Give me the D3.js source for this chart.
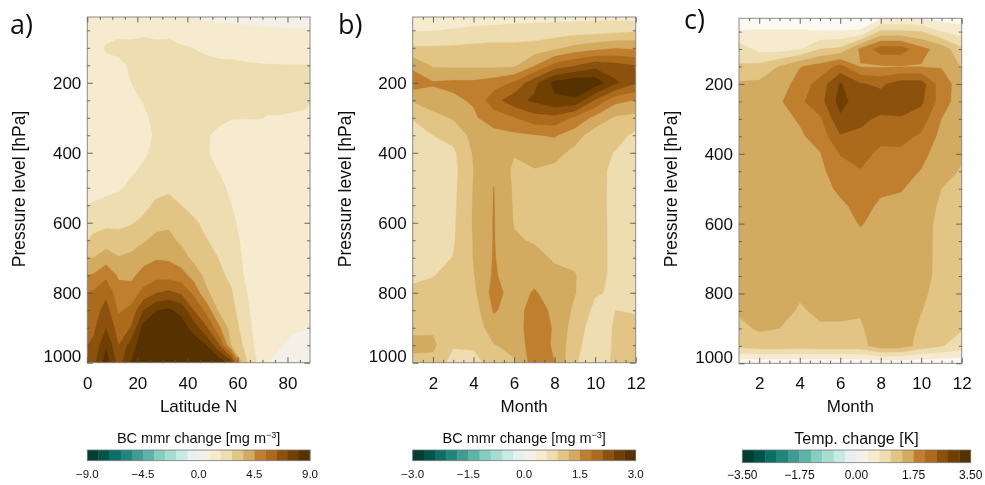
<!DOCTYPE html>
<html>
<head>
<meta charset="utf-8">
<script src="https://cdn.jsdelivr.net/npm/d3@7"></script>
<style>
  html, body { margin: 0; padding: 0; background: #fff; }
  svg { display: block; }
  text { font-family: "Liberation Sans", Arial, sans-serif; fill: #111; }
</style>
</head>
<body>
<script>
// Global consts
var w = 985;
var h = 485;

// pressure rows shared by the three fields [hPa]
const pressureLevels = [0, 50, 100, 150, 200, 250, 300, 350, 400, 450, 500, 550, 600, 650, 700, 750, 800, 850, 900, 950, 1000];
const pressureTicks = [200, 400, 600, 800, 1000];
const pressureMinorTicks = [50, 100, 150, 250, 300, 350, 450, 500, 550, 650, 700, 750, 850, 900, 950];

const latitudes = [2.5, 7.5, 12.5, 17.5, 22.5, 27.5, 32.5, 37.5, 42.5, 47.5, 52.5, 57.5, 62.5, 67.5, 72.5, 77.5, 82.5, 87.5];
const latTicks = [0, 20, 40, 60, 80];
const latMinorTicks = [5, 10, 15, 25, 30, 35, 45, 50, 55, 65, 70, 75, 85];
const months = [1, 2, 3, 4, 5, 6, 7, 8, 9, 10, 11, 12];
const monthTicks = [2, 4, 6, 8, 10, 12];
const monthMinorTicks = [1.5, 2.5, 3, 3.5, 4.5, 5, 5.5, 6.5, 7, 7.5, 8.5, 9, 9.5, 10.5, 11, 11.5];

// colour classes of the bars, teal end to brown end
const classColors = ['#013c34', '#02524a', '#096e66', '#23857d', '#3f9c93', '#5cb3a8', '#84cdc1', '#a6dcd2', '#c7eae5', '#e6f1ef',
    '#f5f0e7', '#f6ebcf', '#eeddb0', '#e2c585', '#d2aa60', '#c07f2e', '#ab6b1d', '#8c510a', '#6f4006', '#543005'];

// Fields are read off the picture, one column per latitude or month, top to bottom,
// in units of the contour step of that panel (1 = one colour class above zero)
const latField = [
    [1.2, 1.3, 1.5, 1.6, 1.6, 1.6, 1.6, 1.6, 1.6, 1.7, 1.8, 2.05, 2.6, 3.25, 4, 5.1, 6.15, 6.5, 6.8, 7.2, 7.6],
    [1.2, 1.6, 2.1, 1.75, 1.6, 1.6, 1.6, 1.6, 1.6, 1.7, 1.85, 2.15, 2.75, 3.5, 4.5, 5.75, 6.75, 7.4, 7.95, 8.9, 9.5],
    [1.2, 1.7, 2.3, 1.75, 1.65, 1.65, 1.65, 1.65, 1.65, 1.75, 1.9, 2.3, 2.75, 3.4, 4.05, 4.85, 5.4, 5.85, 6.5, 7, 7.6],
    [1.2, 1.7, 2.25, 2.15, 2, 1.8, 1.7, 1.7, 1.75, 1.9, 2.15, 2.55, 2.9, 3.6, 4.2, 4.75, 5.45, 6.25, 7.05, 8.45, 9],
    [1.2, 1.8, 2.3, 2.25, 2.2, 2.05, 1.85, 1.75, 1.9, 2.1, 2.35, 2.7, 3.25, 3.9, 4.6, 5.4, 6.3, 8, 9.4, 9.7, 9.9],
    [1.2, 1.7, 2.25, 2.3, 2.35, 2.3, 2.2, 2.1, 2.15, 2.3, 2.65, 3.2, 3.7, 4.25, 4.9, 5.65, 6.95, 8.95, 9.5, 9.7, 9.9],
    [1.2, 1.6, 2.4, 2.5, 2.5, 2.45, 2.4, 2.4, 2.45, 2.55, 2.8, 3.35, 3.8, 4.3, 4.85, 5.6, 7.2, 9.15, 9.5, 9.7, 9.9],
    [0.9, 1.55, 2.1, 2.4, 2.5, 2.45, 2.4, 2.4, 2.4, 2.5, 2.7, 3, 3.4, 3.8, 4.45, 5.4, 6.85, 8.7, 9.5, 9.7, 9.8],
    [0.8, 1.45, 1.98, 2.3, 2.4, 2.4, 2.35, 2.25, 2.25, 2.3, 2.4, 2.7, 3.15, 3.4, 3.75, 4.6, 5.75, 7, 8.6, 9.6, 9.7],
    [0.7, 1.35, 1.85, 2.2, 2.3, 2.3, 2.2, 2.05, 2.05, 2.15, 2.3, 2.5, 2.75, 3.05, 3.35, 3.7, 4.2, 5.7, 7.15, 9, 9.6],
    [0.6, 1.3, 1.75, 2.15, 2.25, 2.2, 2.1, 1.9, 1.85, 1.98, 2.2, 2.4, 2.55, 2.7, 2.98, 3.2, 3.45, 3.85, 5.25, 7.15, 9.8],
    [0.55, 1.25, 1.7, 2.15, 2.2, 2.15, 2.03, 1.75, 1.65, 1.7, 1.85, 2.02, 2.2, 2.4, 2.55, 2.8, 3.1, 3.3, 3.5, 3.95, 8.5],
    [0.5, 1.2, 1.65, 2.1, 2.2, 2.15, 2.02, 1.7, 1.55, 1.5, 1.55, 1.6, 1.7, 1.8, 1.9, 1.98, 2.2, 2.45, 2.7, 2.9, 3.4],
    [0.45, 1.15, 1.6, 2.05, 2.2, 2.15, 2.03, 1.65, 1.5, 1.45, 1.45, 1.45, 1.45, 1.45, 1.45, 1.5, 1.5, 1.5, 1.6, 1.8, 2.03],
    [0.4, 1.12, 1.55, 2.03, 2.15, 2.1, 1.98, 1.6, 1.45, 1.4, 1.4, 1.4, 1.4, 1.4, 1.4, 1.4, 1.4, 1.35, 1.25, 1.15, 1],
    [0.35, 1.1, 1.5, 2.02, 2.15, 2.1, 1.98, 1.55, 1.4, 1.4, 1.4, 1.4, 1.4, 1.4, 1.4, 1.4, 1.4, 1.3, 1.15, 1.01, 0.85],
    [0.3, 1.08, 1.45, 2.03, 2.15, 2.1, 1.95, 1.5, 1.4, 1.4, 1.4, 1.4, 1.4, 1.4, 1.4, 1.4, 1.35, 1.25, 1.08, 0.85, 0.7],
    [0.3, 1.07, 1.45, 2.02, 2.15, 2.1, 1.9, 1.5, 1.4, 1.4, 1.4, 1.4, 1.4, 1.4, 1.4, 1.4, 1.35, 1.2, 1.02, 0.8, 0.6]
];
const bcMonthField = [
    [1.5, 1.9, 3.1, 4.75, 5.6, 4.1, 3.05, 2.7, 2.5, 2.4, 2.4, 2.4, 2.45, 2.5, 2.6, 2.85, 3.15, 3.4, 3.8, 4.25, 3.7],
    [1.5, 1.97, 3.1, 3.85, 5.1, 4.6, 3.65, 3, 2.8, 2.6, 2.55, 2.55, 2.6, 2.7, 2.8, 2.97, 3.2, 3.5, 3.85, 4.2, 3.7],
    [1.5, 2.05, 3.15, 3.8, 5.2, 4.85, 4.1, 3.35, 2.8, 2.7, 2.75, 2.8, 2.85, 2.9, 3.02, 3.2, 3.3, 3.3, 3.2, 3.1, 2.6],
    [1.5, 2.15, 3.25, 3.8, 5.2, 5.1, 4.85, 4.3, 4.1, 4, 4.05, 4.08, 4.1, 4.05, 4.03, 3.95, 3.75, 3.5, 3.3, 3.1, 2.75],
    [1.5, 2.2, 3.35, 3.75, 5.5, 6.6, 5.5, 4.65, 4.4, 4.65, 5.02, 5.04, 5.05, 5.06, 5.08, 5.15, 5.4, 5.1, 4.6, 3.95, 3.3],
    [1.5, 2.3, 3.3, 3.8, 6.1, 7.6, 5.95, 4.8, 4.05, 3.85, 3.85, 3.9, 3.95, 4.1, 4.25, 4.4, 4.55, 4.6, 4.5, 4.25, 3.9],
    [1.5, 2.35, 3.4, 4.9, 7.7, 8.2, 6.6, 4.95, 4.4, 3.95, 3.8, 3.75, 3.8, 3.92, 4.25, 4.65, 5.1, 5.4, 5.55, 5.6, 5.5],
    [1.5, 2.4, 3.75, 6.3, 9.3, 8.8, 6.7, 5.1, 4.35, 3.75, 3.6, 3.6, 3.65, 3.75, 3.9, 4.2, 4.55, 4.8, 4.9, 4.85, 5],
    [1.5, 2.5, 4.3, 6.9, 9.8, 8.85, 5.8, 4.45, 3.7, 3.5, 3.45, 3.45, 3.5, 3.6, 3.8, 4.05, 4.05, 3.8, 3.5, 3.3, 3.1],
    [1.5, 2.55, 4.6, 7.6, 9.6, 6.9, 4.7, 3.45, 3.35, 3.35, 3.4, 3.45, 3.5, 3.5, 3.45, 3.35, 3.1, 2.75, 2.5, 2.4, 2.4],
    [1.5, 2.65, 4.9, 7.3, 8.2, 5.3, 3.85, 3.4, 2.95, 2.75, 2.7, 2.65, 2.65, 2.65, 2.7, 2.75, 2.85, 3, 3.1, 3.15, 3.2],
    [1.2, 2.85, 4.8, 6.95, 7.1, 4.95, 3.7, 2.75, 2.55, 2.5, 2.5, 2.5, 2.5, 2.5, 2.5, 2.5, 2.5, 2.95, 3.15, 3.2, 3.2]
];
const tempMonthField = [
    [0.2, 1.05, 2.5, 3.1, 4.15, 4.4, 4.5, 4.5, 4.5, 4.5, 4.5, 4.5, 4.5, 4.5, 4.5, 4.4, 4.3, 4.1, 3.8, 3.3, 0.2],
    [0.2, 1.1, 1.7, 3.3, 4.2, 4.5, 4.5, 4.5, 4.5, 4.5, 4.5, 4.5, 4.5, 4.5, 4.5, 4.5, 4.5, 4.35, 4.1, 3.6, 0.2],
    [0.2, 1.1, 1.6, 4.05, 4.5, 4.85, 4.7, 4.5, 4.5, 4.5, 4.5, 4.5, 4.5, 4.5, 4.5, 4.5, 4.5, 4.3, 4, 3.6, 0.2],
    [0.2, 1.1, 1.9, 4.95, 5.4, 5.8, 5.1, 4.85, 4.6, 4.5, 4.5, 4.5, 4.5, 4.5, 4.4, 4.2, 4.1, 3.9, 3.75, 3.5, 0.2],
    [0.2, 1.05, 3, 5.4, 6.4, 6.6, 5.85, 5.4, 4.95, 4.75, 4.6, 4.55, 4.5, 4.5, 4.45, 4.4, 4.3, 4.15, 3.9, 3.6, 0.2],
    [0.2, 1.05, 3.2, 6.3, 8.1, 8.4, 7.8, 6.9, 6.05, 5.6, 5.2, 4.8, 4.7, 4.6, 4.55, 4.5, 4.4, 4.15, 3.9, 3.6, 0.2],
    [0.2, 1.1, 5.2, 4.95, 7.1, 7.4, 7.2, 6.8, 6.3, 5.95, 5.6, 5.3, 5.05, 4.8, 4.7, 4.6, 4.4, 4.1, 3.85, 3.6, 0.2],
    [0.2, 3.2, 6.5, 4.9, 6.8, 7.5, 6.85, 6.25, 5.8, 5.5, 5.15, 4.85, 4.75, 4.7, 4.7, 4.7, 4.7, 4.7, 4.7, 4.6, 0.2],
    [0.2, 3.2, 6.5, 4.95, 7.5, 7.55, 6.9, 6.3, 5.8, 5.4, 5.05, 4.8, 4.7, 4.7, 4.7, 4.7, 4.7, 4.7, 4.6, 4.5, 0.2],
    [0.2, 3, 5.3, 4.95, 7.5, 7.2, 6.5, 5.85, 5.35, 4.95, 4.7, 4.6, 4.5, 4.5, 4.5, 4.45, 4.2, 4.03, 3.8, 3.6, 0.2],
    [0.2, 2, 4.6, 4.95, 5.4, 5.5, 5, 4.7, 4.4, 4.2, 4, 3.8, 3.65, 3.6, 3.6, 3.6, 3.6, 3.5, 3.3, 3.05, 0.2],
    [0.2, 1.5, 3.2, 3.9, 4.6, 4.4, 4.3, 4.15, 4.05, 3.95, 3.6, 3.4, 3.3, 3.3, 3.3, 3.2, 3.2, 3.15, 3.05, 2.7, 0.2]
];
const contourLevels = [1, 2, 3, 4, 5, 6, 7, 8, 9];

const bcLatBarTicks = [-9, -4.5, 0, 4.5, 9];
const bcMonthBarTicks = [-3, -1.5, 0, 1.5, 3];
const tempBarTicks = [-3.5, -1.75, 0, 1.75, 3.5];

// populate svg
var svg = d3.select('body').append('svg')
    .attr('width', w)
    .attr('height', h);

// the reference is a slightly soft scan
svg.append('filter').attr('id', 'soft')
    .attr('filterUnits', 'userSpaceOnUse')
    .attr('x', 0).attr('y', 0).attr('width', w).attr('height', h)
    .append('feGaussianBlur').attr('stdDeviation', 0.55);
var root = svg.append('g').attr('filter', 'url(#soft)');

drawPanel({
    id: 'a', left: 87.3, right: 310, top: 17, bottom: 362.7,
    xDomain: [0, 89], xValues: latitudes, field: latField, base: '#f5f0e7',
    xTicks: latTicks, xMinor: latMinorTicks, xLabel: 'Latitude N',
    letter: 'a)', letterX: 10, letterY: 34, yLabelX: 25
});
drawBar({
    left: 87.3, right: 310, top: 450, bottom: 460.7, ticks: bcLatBarTicks, digits: 1,
    titleY: 443, titleSize: 14.5, labelY: 478, labelSize: 11.5, title: 'BC mmr change [mg m', sup: '\u22123', tail: ']'
});

drawPanel({
    id: 'b', left: 412.7, right: 635.7, top: 17, bottom: 362.7,
    xDomain: [1, 12], xValues: months, field: bcMonthField, base: '#f5f0e7',
    xTicks: monthTicks, xMinor: monthMinorTicks, xLabel: 'Month',
    letter: 'b)', letterX: 338, letterY: 34, yLabelX: 351
});
drawBar({
    left: 412.7, right: 635.7, top: 450, bottom: 460.7, ticks: bcMonthBarTicks, digits: 1,
    titleY: 443, titleSize: 14.5, labelY: 478, labelSize: 11.5, title: 'BC mmr change [mg m', sup: '\u22123', tail: ']'
});

drawPanel({
    id: 'c', left: 739, right: 961.7, top: 18.3, bottom: 363.3,
    xDomain: [1, 12], xValues: months, field: tempMonthField, base: '#fcf9f3',
    xTicks: monthTicks, xMinor: monthMinorTicks, xLabel: 'Month',
    letter: 'c)', letterX: 684, letterY: 29, yLabelX: 677
});
drawBar({
    left: 742.3, right: 970.7, top: 450, bottom: 462.7, ticks: tempBarTicks, digits: 2,
    titleY: 444, titleSize: 16, labelY: 479, labelSize: 12, title: 'Temp. change [K]'
});

function drawPanel(p) {
    var x = d3.scaleLinear().domain(p.xDomain).range([p.left, p.right]);
    var y = d3.scaleLinear().domain([12, 1000]).range([p.top, p.bottom]);
    var g = root.append('g');

    g.append('clipPath').attr('id', 'clip-' + p.id)
        .append('rect')
        .attr('x', p.left).attr('y', p.top)
        .attr('width', p.right - p.left).attr('height', p.bottom - p.top);

    var plot = g.append('g').attr('clip-path', 'url(#clip-' + p.id + ')');
    plot.append('rect')
        .attr('x', p.left).attr('y', p.top)
        .attr('width', p.right - p.left).attr('height', p.bottom - p.top)
        .attr('fill', p.base);

    // d3.contours wants the grid row by row
    var nx = p.xValues.length;
    var ny = pressureLevels.length;
    var values = [];
    pressureLevels.forEach(function (lev, j) {
        p.xValues.forEach(function (d, i) {
            values.push(p.field[i][j]);
        });
    });
    var contours = d3.contours().size([nx, ny]).smooth(true).thresholds(contourLevels)(values);

    // grid value i sits at contour coordinate i + 0.5
    var dx = p.xValues[1] - p.xValues[0];
    var dp = pressureLevels[1] - pressureLevels[0];
    var path = d3.geoPath().projection(d3.geoTransform({
        point: function (cx, cy) {
            this.stream.point(x(p.xValues[0] + (cx - 0.5) * dx), y(pressureLevels[0] + (cy - 0.5) * dp));
        }
    }));
    plot.selectAll('path').data(contours).enter().append('path')
        .attr('d', path)
        .attr('fill', function (d) { return classColors[10 + d.value]; })
        .attr('stroke', function (d) { return classColors[10 + d.value]; })
        .attr('stroke-width', 0.3);

    g.append('rect')
        .attr('x', p.left).attr('y', p.top)
        .attr('width', p.right - p.left).attr('height', p.bottom - p.top)
        .attr('fill', 'none').attr('stroke', '#8c8c8c').attr('stroke-width', 1);

    // ticks on all four sides, pointing inwards
    function side(axis, tx, ty, values, size, labels) {
        var a = g.append('g')
            .attr('transform', 'translate(' + tx + ',' + ty + ')')
            .call(axis.tickValues(values).tickSize(-size));
        a.select('.domain').remove();
        a.selectAll('line').attr('stroke', '#555').attr('stroke-width', 0.9);
        a.selectAll('text').attr('font-size', labels ? 17 : 0).style('font-family', '"Liberation Sans", Arial, sans-serif').attr('fill', '#111');
        return a;
    }
    var noLabel = function () { return ''; };
    var left = side(d3.axisLeft(y).tickPadding(6).tickFormat(d3.format('d')), p.left, 0, pressureTicks, 5.5, true);
    side(d3.axisLeft(y).tickFormat(noLabel), p.left, 0, pressureMinorTicks, 2.8, false);
    side(d3.axisRight(y).tickFormat(noLabel), p.right, 0, pressureTicks, 5.5, false);
    side(d3.axisRight(y).tickFormat(noLabel), p.right, 0, pressureMinorTicks, 2.8, false);
    side(d3.axisBottom(x).tickPadding(14), 0, p.bottom, p.xTicks, 5.5, true);
    side(d3.axisBottom(x).tickFormat(noLabel), 0, p.bottom, p.xMinor, 2.8, false);
    side(d3.axisTop(x).tickFormat(noLabel), 0, p.top, p.xTicks, 5.5, false);
    side(d3.axisTop(x).tickFormat(noLabel), 0, p.top, p.xMinor, 2.8, false);

    // the 1000 label is lifted so it stays clear of the month labels
    left.selectAll('text').filter(function (d) { return d === 1000; }).attr('y', -6.5);

    g.append('text')
        .attr('x', (p.left + p.right) / 2).attr('y', 412)
        .attr('text-anchor', 'middle').attr('font-size', 17)
        .text(p.xLabel);
    g.append('text')
        .attr('transform', 'translate(' + p.yLabelX + ',189) rotate(-90)')
        .attr('text-anchor', 'middle').attr('font-size', 17.5)
        .text('Pressure level [hPa]');
    g.append('text')
        .attr('x', p.letterX).attr('y', p.letterY)
        .attr('font-size', 27)
        .style('font-family', '"Open Sans", sans-serif')
        .text(p.letter);
}

function drawBar(b) {
    var g = root.append('g');
    var classes = d3.range(classColors.length);
    var band = d3.scaleBand().domain(classes).range([b.left, b.right]);
    var limit = b.ticks[b.ticks.length - 1];
    var x = d3.scaleLinear().domain([-limit, limit]).range([b.left, b.right]);

    g.selectAll('rect').data(classes).enter().append('rect')
        .attr('x', function (d) { return band(d); })
        .attr('y', b.top)
        .attr('width', band.bandwidth() + 0.3)
        .attr('height', b.bottom - b.top)
        .attr('fill', function (d) { return classColors[d]; });
    g.append('rect')
        .attr('x', b.left).attr('y', b.top)
        .attr('width', b.right - b.left).attr('height', b.bottom - b.top)
        .attr('fill', 'none').attr('stroke', '#777').attr('stroke-width', 0.8);

    g.selectAll('.bar-label').data(b.ticks).enter().append('text')
        .attr('class', 'bar-label')
        .attr('x', function (d) { return x(d); })
        .attr('y', b.labelY)
        .attr('text-anchor', 'middle').attr('font-size', b.labelSize)
        .text(function (d) { return d3.format('.' + b.digits + 'f')(d).replace('-', '\u2212'); });

    var title = g.append('text')
        .attr('x', (b.left + b.right) / 2).attr('y', b.titleY)
        .attr('text-anchor', 'middle').attr('font-size', b.titleSize)
        .text(b.title);
    if (b.sup) {
        title.append('tspan').attr('dy', -5).attr('font-size', 9).text(b.sup);
        title.append('tspan').attr('dy', 5).text(b.tail);
    }
}
</script>
</body>
</html>
